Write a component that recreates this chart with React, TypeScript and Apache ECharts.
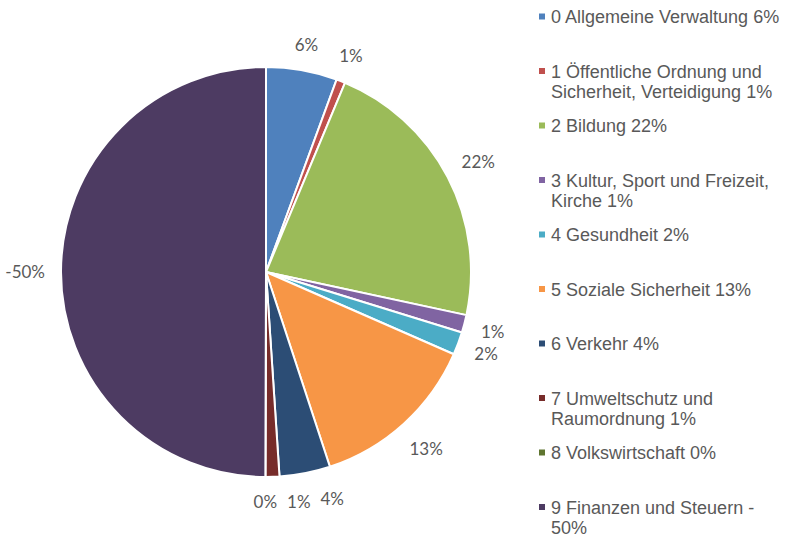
import React, { useEffect, useRef } from "react";
import * as echarts from "echarts";

const categories = [
  "0 Allgemeine Verwaltung",
  "1 Öffentliche Ordnung und Sicherheit, Verteidigung",
  "2 Bildung",
  "3 Kultur, Sport und Freizeit, Kirche",
  "4 Gesundheit",
  "5 Soziale Sicherheit",
  "6 Verkehr",
  "7 Umweltschutz und Raumordnung",
  "8 Volkswirtschaft",
  "9 Finanzen und Steuern",
];
// signed shares in percent
const shares = [5.6, 0.7, 22.1, 1.4, 1.8, 13.4, 4.0, 1.1, 0, -50];
const pctLabels = ["6%", "1%", "22%", "1%", "2%", "13%", "4%", "1%", "0%", "-50%"];
const legendLabels = [
  "0 Allgemeine Verwaltung 6%",
  "1 Öffentliche Ordnung und\nSicherheit, Verteidigung 1%",
  "2 Bildung 22%",
  "3 Kultur, Sport und Freizeit,\nKirche 1%",
  "4 Gesundheit 2%",
  "5 Soziale Sicherheit 13%",
  "6 Verkehr 4%",
  "7 Umweltschutz und\nRaumordnung 1%",
  "8 Volkswirtschaft 0%",
  "9 Finanzen und Steuern -\n50%",
];
const colors = [
  "#4F81BD", "#C0504D", "#9BBB59", "#8064A2", "#4BACC6",
  "#F79646", "#2C4D75", "#772C2A", "#5F7530", "#4D3B62",
];

const CX = 266;
const CY = 272;
const RADIUS = 205;
const LABEL_GAP = 16;
const LABEL_FONT = "17px Lato, sans-serif";
const LABEL_H = 16;
const LABEL_SEP = 10;

function computeLabelPositions(absVals: number[]) {
  const total = absVals.reduce((a, b) => a + b, 0);
  const canvas = document.createElement("canvas");
  const ctx = canvas.getContext("2d")!;
  ctx.font = LABEL_FONT;
  const pos: { x: number; y: number; w: number; h: number }[] = [];
  let acc = 0;
  absVals.forEach((v, i) => {
    const a = ((acc + v / 2) / total) * Math.PI * 2;
    acc += v;
    const ux = Math.sin(a);
    const uy = -Math.cos(a);
    const w = ctx.measureText(pctLabels[i]).width;
    const h = LABEL_H;
    const ext = Math.abs(ux) * (w / 2) + Math.abs(uy) * (h / 2);
    const R = RADIUS + LABEL_GAP + ext;
    pos.push({ x: CX + R * ux, y: CY + R * uy, w, h });
  });
  // resolve overlaps: walk back from the last slice, push labels sideways
  const placed: number[] = [];
  for (let i = pos.length - 1; i >= 0; i--) {
    const p = pos[i];
    for (const j of placed) {
      const q = pos[j];
      const overlapX = Math.abs(p.x - q.x) < (p.w + q.w) / 2 + LABEL_SEP;
      const overlapY = Math.abs(p.y - q.y) < (p.h + q.h) / 2;
      if (overlapX && overlapY) {
        const dir = p.x >= q.x ? 1 : -1;
        p.x = q.x + dir * ((p.w + q.w) / 2 + LABEL_SEP);
      }
    }
    placed.push(i);
  }
  return pos;
}

export default function App() {
  const ref = useRef<HTMLDivElement>(null);
  useEffect(() => {
    if (!ref.current) return;
    const chart = echarts.init(ref.current, null, { renderer: "svg" });
    const absVals = shares.map((v) => Math.abs(v));
    const labelPos = computeLabelPositions(absVals);
    const legendGraphics: any[] = [];
    legendLabels.forEach((t, i) => {
      const top = 17 + i * 54.5;
      legendGraphics.push({
        type: "rect",
        left: 539,
        top: top - 3.5,
        shape: { width: 6, height: 6 },
        style: { fill: colors[i] },
        silent: true,
      });
      legendGraphics.push({
        type: "text",
        left: 551,
        top: top - 10,
        style: {
          text: t,
          fill: "#595959",
          font: "18px 'Liberation Sans', Arial, sans-serif",
          lineHeight: 20,
        },
        silent: true,
      });
    });
    chart.setOption({
      animation: false,
      color: colors,
      series: [
        {
          type: "pie",
          center: [CX, CY],
          radius: [0, RADIUS],
          startAngle: 90,
          clockwise: true,
          avoidLabelOverlap: false,
          itemStyle: { borderColor: "#ffffff", borderWidth: 2 },
          label: {
            show: true,
            position: "outside",
            formatter: (p: any) => pctLabels[p.dataIndex],
            color: "#595959",
            fontFamily: "Lato, sans-serif",
            fontSize: 17,
            lineHeight: LABEL_H,
            overflow: "none",
          },
          labelLine: { show: false },
          labelLayout: (params: any) => {
            const p = labelPos[params.dataIndex];
            return {
              x: p.x,
              y: p.y,
              align: "center",
              verticalAlign: "middle",
            };
          },
          emphasis: { disabled: true },
          data: categories.map((c, i) => ({ name: c, value: absVals[i] })),
        },
      ],
      graphic: legendGraphics,
    });
    return () => chart.dispose();
  }, []);
  return (
    <div
      ref={ref}
      style={{ position: "absolute", left: 0, top: 0, width: 796, height: 539 }}
    />
  );
}
